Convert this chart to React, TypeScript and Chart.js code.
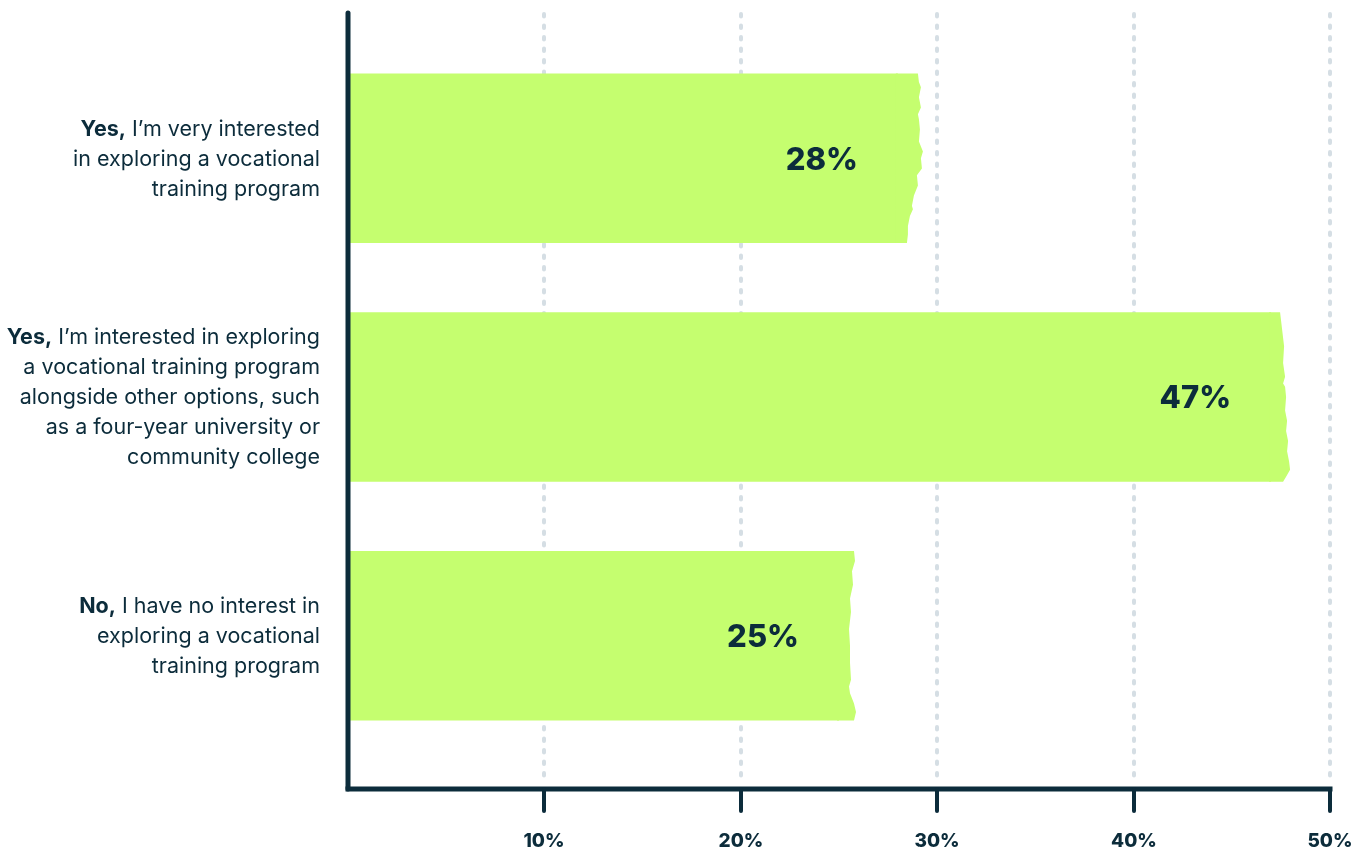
import React, { useEffect, useRef } from 'react';
import Chart from 'chart.js/auto';

// survey answers, one entry per line of the axis label
const categories: string[][] = [
    ['Yes, I’m very interested', 'in exploring a vocational', 'training program'],
    [
        'Yes, I’m interested in exploring',
        'a vocational training program',
        'alongside other options, such',
        'as a four-year university or',
        'community college',
    ],
    ['No, I have no interest in', 'exploring a vocational', 'training program'],
];
const values = [28, 47, 25];
const tickValues = [10, 20, 30, 40, 50];

const INK = '#0c2c3b';
const LIME = '#c5fe6f';
const DOTS = '#d5dee4';
const FONT = 'Inter, "Noto Sans", sans-serif';
const LABEL_SIZE = 21.5;

// torn edge profiles (t along bar height, extra px past the value)
const edges: number[][][] = [
    [[0, 20], [0.05, 21], [0.08, 23], [0.14, 21], [0.2, 23], [0.24, 20], [0.27, 21], [0.33, 22], [0.4, 21], [0.46, 25], [0.5, 23], [0.56, 24], [0.6, 19], [0.66, 20], [0.72, 16], [0.78, 14], [0.8, 15], [0.84, 12], [0.9, 10], [0.95, 10], [1, 9]],
    [[0, 9], [0.1, 11], [0.2, 13], [0.3, 12], [0.38, 14], [0.42, 12], [0.44, 14], [0.5, 15], [0.58, 14], [0.64, 16], [0.7, 15], [0.76, 17], [0.82, 16], [0.88, 18], [0.93, 19], [0.97, 15], [1, 12]],
    [[0, 15], [0.06, 16], [0.12, 13], [0.2, 14], [0.28, 11], [0.36, 12], [0.46, 10], [0.56, 11], [0.66, 11], [0.76, 12], [0.8, 10], [0.84, 11], [0.9, 15], [0.95, 17], [1, 15]],
];

const decor = {
    id: 'decor',
    beforeDatasetsDraw(chart: any) {
        const { ctx, chartArea } = chart;
        const x = chart.scales.x;
        ctx.save();
        ctx.strokeStyle = DOTS;
        ctx.lineWidth = 4;
        ctx.lineCap = 'round';
        ctx.setLineDash([2.5, 9]);
        tickValues.forEach((v) => {
            const px = Math.round(x.getPixelForValue(v));
            ctx.beginPath();
            ctx.moveTo(px, chartArea.top - 25);
            ctx.lineTo(px, chartArea.bottom + 28);
            ctx.stroke();
        });
        ctx.restore();
    },
    afterDatasetsDraw(chart: any) {
        const { ctx, chartArea } = chart;
        const x = chart.scales.x;
        const meta = chart.getDatasetMeta(0);
        ctx.save();

        // ragged bar ends
        meta.data.forEach((bar: any, i: number) => {
            const top = bar.y - bar.height / 2;
            const h = bar.height;
            ctx.fillStyle = LIME;
            ctx.beginPath();
            ctx.moveTo(bar.x - 2, top);
            edges[i].forEach(([t, dx]) => ctx.lineTo(bar.x + dx, top + t * h));
            ctx.lineTo(bar.x - 2, top + h);
            ctx.closePath();
            ctx.fill();

            ctx.fillStyle = INK;
            ctx.font = `800 31px ${FONT}`;
            ctx.textAlign = 'right';
            ctx.textBaseline = 'middle';
            ctx.fillText(`${values[i]}%`, bar.x - 40, bar.y + 2);
        });

        // axes
        const axisY = chartArea.bottom + 34;
        ctx.strokeStyle = INK;
        ctx.lineWidth = 5;
        ctx.lineCap = 'round';
        ctx.beginPath();
        ctx.moveTo(chartArea.left, chartArea.top - 26);
        ctx.lineTo(chartArea.left, axisY);
        ctx.stroke();
        ctx.lineCap = 'butt';
        ctx.beginPath();
        ctx.moveTo(chartArea.left - 2.5, axisY);
        ctx.lineTo(chartArea.right + 2.5, axisY);
        ctx.stroke();

        ctx.lineWidth = 4;
        ctx.lineCap = 'round';
        ctx.font = `800 19px ${FONT}`;
        ctx.textAlign = 'center';
        ctx.textBaseline = 'middle';
        ctx.fillStyle = INK;
        tickValues.forEach((v) => {
            const px = Math.round(x.getPixelForValue(v));
            ctx.beginPath();
            ctx.moveTo(px, axisY);
            ctx.lineTo(px, axisY + 22);
            ctx.stroke();
            ctx.fillText(`${v}%`, px, axisY + 52);
        });

        // category labels, first word bold
        const rightX = chartArea.left - 28;
        const lineH = 30;
        ctx.textAlign = 'left';
        categories.forEach((lines, i) => {
            const cy = meta.data[i].y;
            const y0 = cy - ((lines.length - 1) * lineH) / 2;
            lines.forEach((line, j) => {
                const y = y0 + j * lineH + 1;
                let bold = '';
                let rest = line;
                if (j === 0) {
                    const k = line.indexOf(',') + 1;
                    bold = line.slice(0, k);
                    rest = line.slice(k);
                }
                ctx.font = `bold ${LABEL_SIZE}px ${FONT}`;
                const wb = ctx.measureText(bold).width;
                ctx.font = `${LABEL_SIZE}px ${FONT}`;
                const wr = ctx.measureText(rest).width;
                const sx = rightX - wb - wr;
                ctx.font = `bold ${LABEL_SIZE}px ${FONT}`;
                ctx.fillText(bold, sx, y);
                ctx.font = `${LABEL_SIZE}px ${FONT}`;
                ctx.fillText(rest, sx + wb, y);
            });
        });
        ctx.restore();
    },
};

const App: React.FC = () => {
    const chartRef = useRef<HTMLCanvasElement>(null);

    useEffect(() => {
        const ctx = chartRef.current?.getContext('2d');
        if (!ctx) return;
        const chart = new Chart(ctx, {
            type: 'bar',
            data: {
                labels: categories.map((c) => c.join(' ')),
                datasets: [
                    {
                        data: values,
                        backgroundColor: LIME,
                        borderWidth: 0,
                        categoryPercentage: 0.71,
                        barPercentage: 1,
                    },
                ],
            },
            options: {
                indexAxis: 'y',
                responsive: true,
                maintainAspectRatio: false,
                animation: false,
                layout: { padding: { left: 348, right: 30, top: 39, bottom: 105 } },
                scales: {
                    x: { min: 0, max: 50, display: false },
                    y: { display: false },
                },
                plugins: {
                    legend: { display: false },
                    tooltip: { enabled: false },
                },
            },
            plugins: [decor],
        });
        return () => chart.destroy();
    }, []);

    return (
        <div style={{ position: 'fixed', left: 0, top: 0, width: 1360, height: 860, background: '#fff' }}>
            <canvas ref={chartRef} />
        </div>
    );
};

export default App;
